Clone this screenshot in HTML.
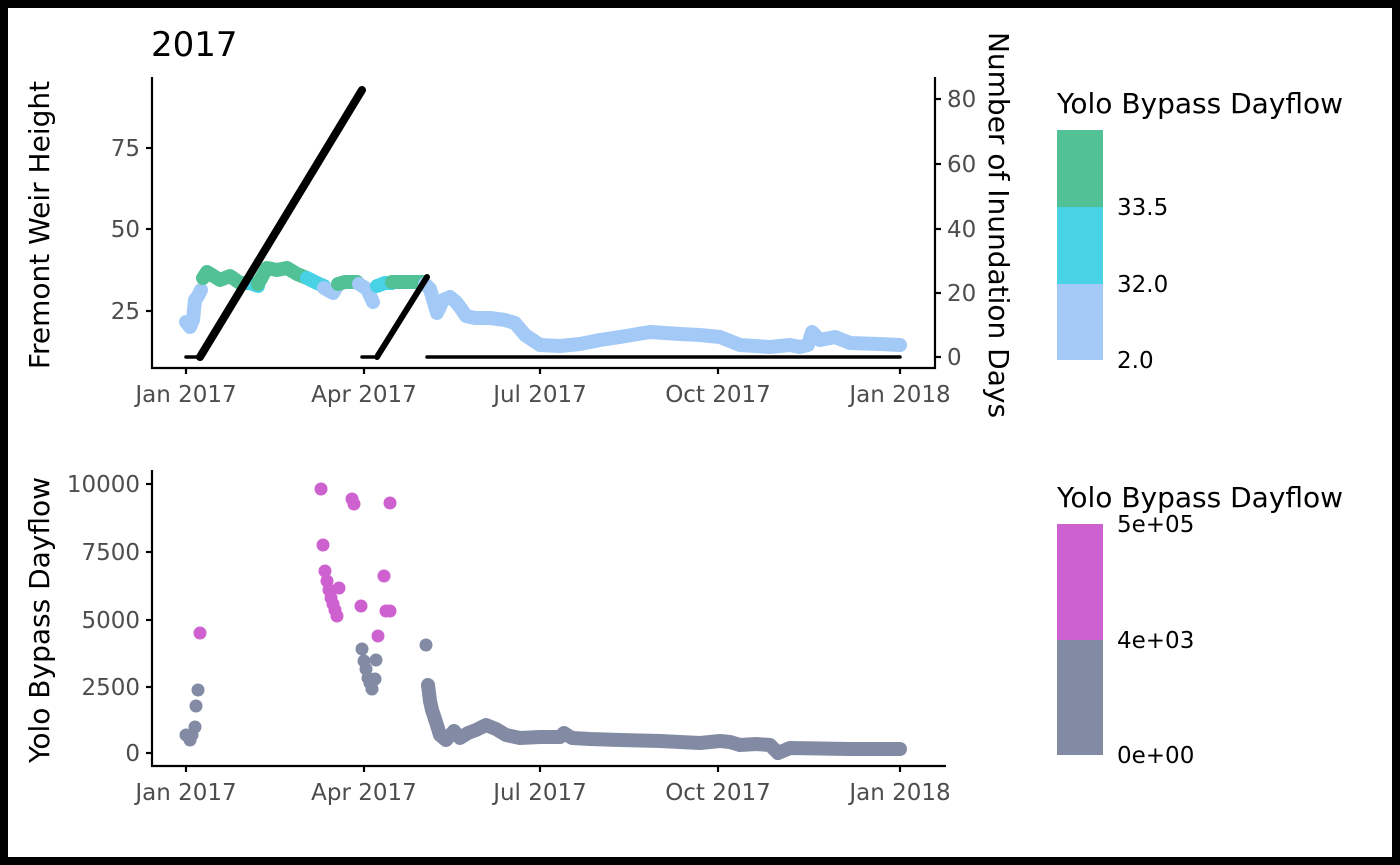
<!DOCTYPE html>
<html><head><meta charset="utf-8"><style>
html,body{margin:0;padding:0;background:#000;}
svg{display:block;}
text{font-family:"DejaVu Sans","Liberation Sans",sans-serif;}
</style></head><body>
<svg width="1400" height="865" viewBox="0 0 1400 865" xmlns="http://www.w3.org/2000/svg">
<rect x="0" y="0" width="1400" height="865" fill="#000"/>
<rect x="8" y="8" width="1384" height="849" fill="#fff"/>
<text x="151" y="56" font-size="34" fill="#000">2017</text>

<!-- TOP PANEL -->
<g fill="none" stroke-linecap="round" stroke-linejoin="round" stroke-width="14">
<polyline stroke="#A3CAF7" points="186,322 190,327 193,320 195,300 198,296 201,290"/>
<polyline stroke="#52C296" points="203,278 207,272 212,275 220,280 230,276 240,283 250,283"/>
<polyline stroke="#47D3E5" points="250,283 258,286"/>
<polyline stroke="#52C296" points="258,284 267,268 277,270 287,268 297,274 307,278"/>
<polyline stroke="#47D3E5" points="307,278 317,283 324,286"/>
<polyline stroke="#A3CAF7" points="324,288 333,293 336,288"/>
<polyline stroke="#52C296" points="338,284 345,282 357,282"/>
<polyline stroke="#A3CAF7" points="359,284 367,289 373,302"/>
<polyline stroke="#47D3E5" points="377,286 385,283 392,283"/>
<polyline stroke="#52C296" points="392,282 410,282 423,282"/>
<polyline stroke="#A3CAF7" points="425,284 430,289 437,313 443,300 450,297 456,302 462,310 466,316 475,318 490,318 505,320 515,323 525,335 540,345 560,346 580,344 600,340 620,337 650,332 680,334 700,335 720,337 740,345 770,347 790,345 800,347 808,345 812,332 820,340 835,337 850,343 880,344 900,345"/>
</g>
<g fill="none" stroke="#000" stroke-linecap="round">
<polyline stroke-width="3.5" points="186,357 200,357"/>
<line stroke-width="8" x1="200" y1="357" x2="362" y2="90"/>
<polyline stroke-width="3.5" points="362,357 377,357"/>
<line stroke-width="6" x1="377" y1="357" x2="427" y2="277"/>
<polyline stroke-width="3.5" points="427,357 900,357"/>
</g>
<g stroke="#000" stroke-width="2.2" fill="none">
<line x1="152" y1="77" x2="152" y2="369"/>
<line x1="151" y1="368" x2="936" y2="368"/>
<line x1="935" y1="77" x2="935" y2="369"/>
<line x1="146" y1="148" x2="152" y2="148"/><line x1="146" y1="229" x2="152" y2="229"/><line x1="146" y1="311" x2="152" y2="311"/>
<line x1="935" y1="357" x2="941" y2="357"/><line x1="935" y1="293" x2="941" y2="293"/><line x1="935" y1="229" x2="941" y2="229"/><line x1="935" y1="164" x2="941" y2="164"/><line x1="935" y1="99" x2="941" y2="99"/>
<line x1="186" y1="368" x2="186" y2="374"/><line x1="364" y1="368" x2="364" y2="374"/><line x1="540" y1="368" x2="540" y2="374"/><line x1="718" y1="368" x2="718" y2="374"/><line x1="900" y1="368" x2="900" y2="374"/>
</g>
<g font-size="23" fill="#4d4d4d">
<g text-anchor="end"><text x="140" y="156">75</text><text x="140" y="237">50</text><text x="140" y="319">25</text></g>
<g text-anchor="start"><text x="947" y="365">0</text><text x="947" y="301">20</text><text x="947" y="237">40</text><text x="947" y="172">60</text><text x="947" y="107">80</text></g>
<g text-anchor="middle"><text x="186" y="402">Jan 2017</text><text x="364" y="402">Apr 2017</text><text x="540" y="402">Jul 2017</text><text x="718" y="402">Oct 2017</text><text x="900" y="402">Jan 2018</text></g>
</g>
<text transform="translate(49,225) rotate(-90)" font-size="28" text-anchor="middle" fill="#000">Fremont Weir Height</text>
<text transform="translate(989,225) rotate(90)" font-size="28" text-anchor="middle" fill="#000">Number of Inundation Days</text>

<!-- top legend -->
<text x="1057" y="113" font-size="28" fill="#000">Yolo Bypass Dayflow</text>
<rect x="1057" y="130" width="46" height="77" fill="#52C296"/>
<rect x="1057" y="207" width="46" height="77" fill="#47D3E5"/>
<rect x="1057" y="284" width="46" height="76" fill="#A3CAF7"/>
<g font-size="23" fill="#000"><text x="1117" y="215">33.5</text><text x="1117" y="292">32.0</text><text x="1117" y="368">2.0</text></g>

<!-- BOTTOM PANEL -->
<polyline fill="none" stroke="#828BA3" stroke-width="14" stroke-linecap="round" stroke-linejoin="round" points="428,685 430,701 432,710 436,722 440,735 446,740 454,731 460,738 468,733 476,730 486,725 496,729 506,735 520,738 540,737 560,737 564,733 572,738 590,739 620,740 660,741 700,743 720,741 730,742 740,745 756,744 770,745 778,753 790,748 850,749 900,749"/>
<g fill="#828BA3">
<circle cx="186" cy="735" r="6.5"/><circle cx="190" cy="740" r="6.5"/><circle cx="192" cy="735" r="6.5"/><circle cx="195" cy="727" r="6.5"/><circle cx="196" cy="706" r="6.5"/><circle cx="198" cy="690" r="6.5"/>
<circle cx="362" cy="649" r="6.5"/><circle cx="364" cy="661" r="6.5"/><circle cx="366" cy="669" r="6.5"/><circle cx="368" cy="678" r="6.5"/><circle cx="370" cy="683" r="6.5"/><circle cx="372" cy="689" r="6.5"/><circle cx="375" cy="679" r="6.5"/><circle cx="376" cy="660" r="6.5"/>
<circle cx="426" cy="645" r="6.5"/>
</g>
<g fill="#CD61CF">
<circle cx="200" cy="633" r="6.5"/>
<circle cx="321" cy="489" r="6.5"/><circle cx="323" cy="545" r="6.5"/><circle cx="325" cy="571" r="6.5"/><circle cx="327" cy="581" r="6.5"/><circle cx="329" cy="590" r="6.5"/><circle cx="331" cy="598" r="6.5"/><circle cx="333" cy="604" r="6.5"/><circle cx="335" cy="610" r="6.5"/><circle cx="337" cy="616" r="6.5"/><circle cx="339" cy="588" r="6.5"/>
<circle cx="361" cy="606" r="6.5"/><circle cx="352" cy="499" r="6.5"/><circle cx="354" cy="504" r="6.5"/><circle cx="384" cy="576" r="6.5"/><circle cx="386" cy="611" r="6.5"/><circle cx="390" cy="611" r="6.5"/><circle cx="390" cy="503" r="6.5"/><circle cx="378" cy="636" r="6.5"/>
</g>
<g stroke="#000" stroke-width="2.2" fill="none">
<line x1="152" y1="470" x2="152" y2="767"/>
<line x1="151" y1="766" x2="946" y2="766"/>
<line x1="146" y1="484" x2="152" y2="484"/><line x1="146" y1="552" x2="152" y2="552"/><line x1="146" y1="620" x2="152" y2="620"/><line x1="146" y1="687" x2="152" y2="687"/><line x1="146" y1="753" x2="152" y2="753"/>
<line x1="186" y1="766" x2="186" y2="772"/><line x1="364" y1="766" x2="364" y2="772"/><line x1="540" y1="766" x2="540" y2="772"/><line x1="718" y1="766" x2="718" y2="772"/><line x1="900" y1="766" x2="900" y2="772"/>
</g>
<g font-size="23" fill="#4d4d4d">
<g text-anchor="end"><text x="140" y="492">10000</text><text x="140" y="560">7500</text><text x="140" y="628">5000</text><text x="140" y="695">2500</text><text x="140" y="761">0</text></g>
<g text-anchor="middle"><text x="186" y="800">Jan 2017</text><text x="364" y="800">Apr 2017</text><text x="540" y="800">Jul 2017</text><text x="718" y="800">Oct 2017</text><text x="900" y="800">Jan 2018</text></g>
</g>
<text transform="translate(49,620) rotate(-90)" font-size="28" text-anchor="middle" fill="#000">Yolo Bypass Dayflow</text>

<!-- bottom legend -->
<text x="1057" y="507" font-size="28" fill="#000">Yolo Bypass Dayflow</text>
<rect x="1057" y="524" width="46" height="116" fill="#CD61CF"/>
<rect x="1057" y="640" width="46" height="115" fill="#828BA3"/>
<g font-size="23" fill="#000"><text x="1117" y="532">5e+05</text><text x="1117" y="648">4e+03</text><text x="1117" y="763">0e+00</text></g>
</svg>
</body></html>
